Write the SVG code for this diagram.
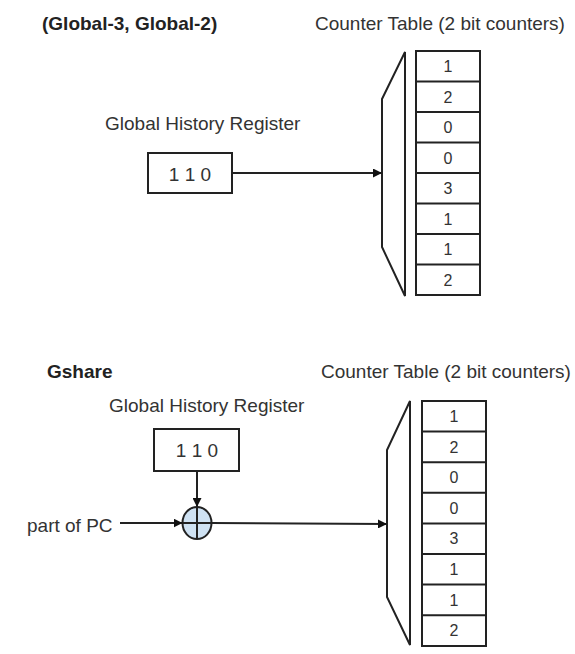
<svg xmlns="http://www.w3.org/2000/svg" width="575" height="654" viewBox="0 0 575 654">
<defs>
<style>
.t{font-family:"Liberation Sans",Arial,sans-serif;font-size:19px;fill:#333}
.b{font-family:"Liberation Sans",Arial,sans-serif;font-size:19px;font-weight:bold;fill:#222}
.c{font-family:"Liberation Sans",Arial,sans-serif;font-size:16px;fill:#333;text-anchor:middle}
.bx{fill:#fff;stroke:#222;stroke-width:2}
.ln{fill:none;stroke:#222;stroke-width:2}
</style>
<marker id="ah" viewBox="0 0 10 10" refX="10" refY="5" markerWidth="9" markerHeight="9" markerUnits="userSpaceOnUse" orient="auto">
<path d="M0,0 L10,5 L0,10 z" fill="#111"/>
</marker>
</defs>
<rect width="575" height="654" fill="#fff"/>

<text class="b" x="42" y="30">(Global-3, Global-2)</text>
<text class="t" x="315" y="30">Counter Table (2 bit counters)</text>

<g id="ghr1">
<text class="t" x="105" y="130">Global History Register</text>
<rect class="bx" x="148" y="153" width="84" height="40"/>
<text class="t" x="190" y="181" text-anchor="middle">1 1 0</text>
</g>

<g id="mux1">
<path class="ln" d="M405,52 L382,99 L382,247 L405,296 Z"/>
</g>

<g id="table1">
<rect class="bx" x="416" y="51" width="64" height="244"/>
<path class="ln" d="M416,81.5H480M416,112H480M416,142.5H480M416,173H480M416,203.5H480M416,234H480M416,264.5H480"/>
<text class="c" x="448" y="72">1</text>
<text class="c" x="448" y="102.5">2</text>
<text class="c" x="448" y="133">0</text>
<text class="c" x="448" y="163.5">0</text>
<text class="c" x="448" y="194">3</text>
<text class="c" x="448" y="224.5">1</text>
<text class="c" x="448" y="255">1</text>
<text class="c" x="448" y="285.5">2</text>
</g>

<text class="b" x="47" y="378">Gshare</text>
<text class="t" x="321" y="378">Counter Table (2 bit counters)</text>

<g id="ghr2">
<text class="t" x="109" y="412">Global History Register</text>
<rect class="bx" x="154" y="429" width="85" height="42"/>
<text class="t" x="197" y="457" text-anchor="middle">1 1 0</text>
</g>

<g id="pc">
<text class="t" x="27" y="532">part of PC</text>
</g>

<g id="xor">
<ellipse cx="197" cy="523" rx="14.5" ry="16" fill="#cfe2f3" stroke="#222" stroke-width="2"/>
<path class="ln" d="M182.5,523H211.5M197,507V539"/>
</g>

<g id="mux2">
<path class="ln" d="M410,401 L387,450 L387,597 L410,645 Z"/>
</g>

<g id="table2">
<rect class="bx" x="422" y="401" width="64" height="245"/>
<path class="ln" d="M422,431.6H486M422,462.2H486M422,492.8H486M422,523.4H486M422,554H486M422,584.6H486M422,615.2H486"/>
<text class="c" x="454" y="422">1</text>
<text class="c" x="454" y="452.6">2</text>
<text class="c" x="454" y="483.2">0</text>
<text class="c" x="454" y="513.8">0</text>
<text class="c" x="454" y="544.4">3</text>
<text class="c" x="454" y="575">1</text>
<text class="c" x="454" y="605.6">1</text>
<text class="c" x="454" y="636.2">2</text>
</g>

<g id="connectors">
<line class="ln" x1="232" y1="173" x2="382" y2="173" marker-end="url(#ah)"/>
<line class="ln" x1="197" y1="471" x2="197" y2="507" marker-end="url(#ah)"/>
<line class="ln" x1="120" y1="523" x2="182.5" y2="523" marker-end="url(#ah)"/>
<line class="ln" x1="211.5" y1="523" x2="387" y2="524" marker-end="url(#ah)"/>
</g>
</svg>
